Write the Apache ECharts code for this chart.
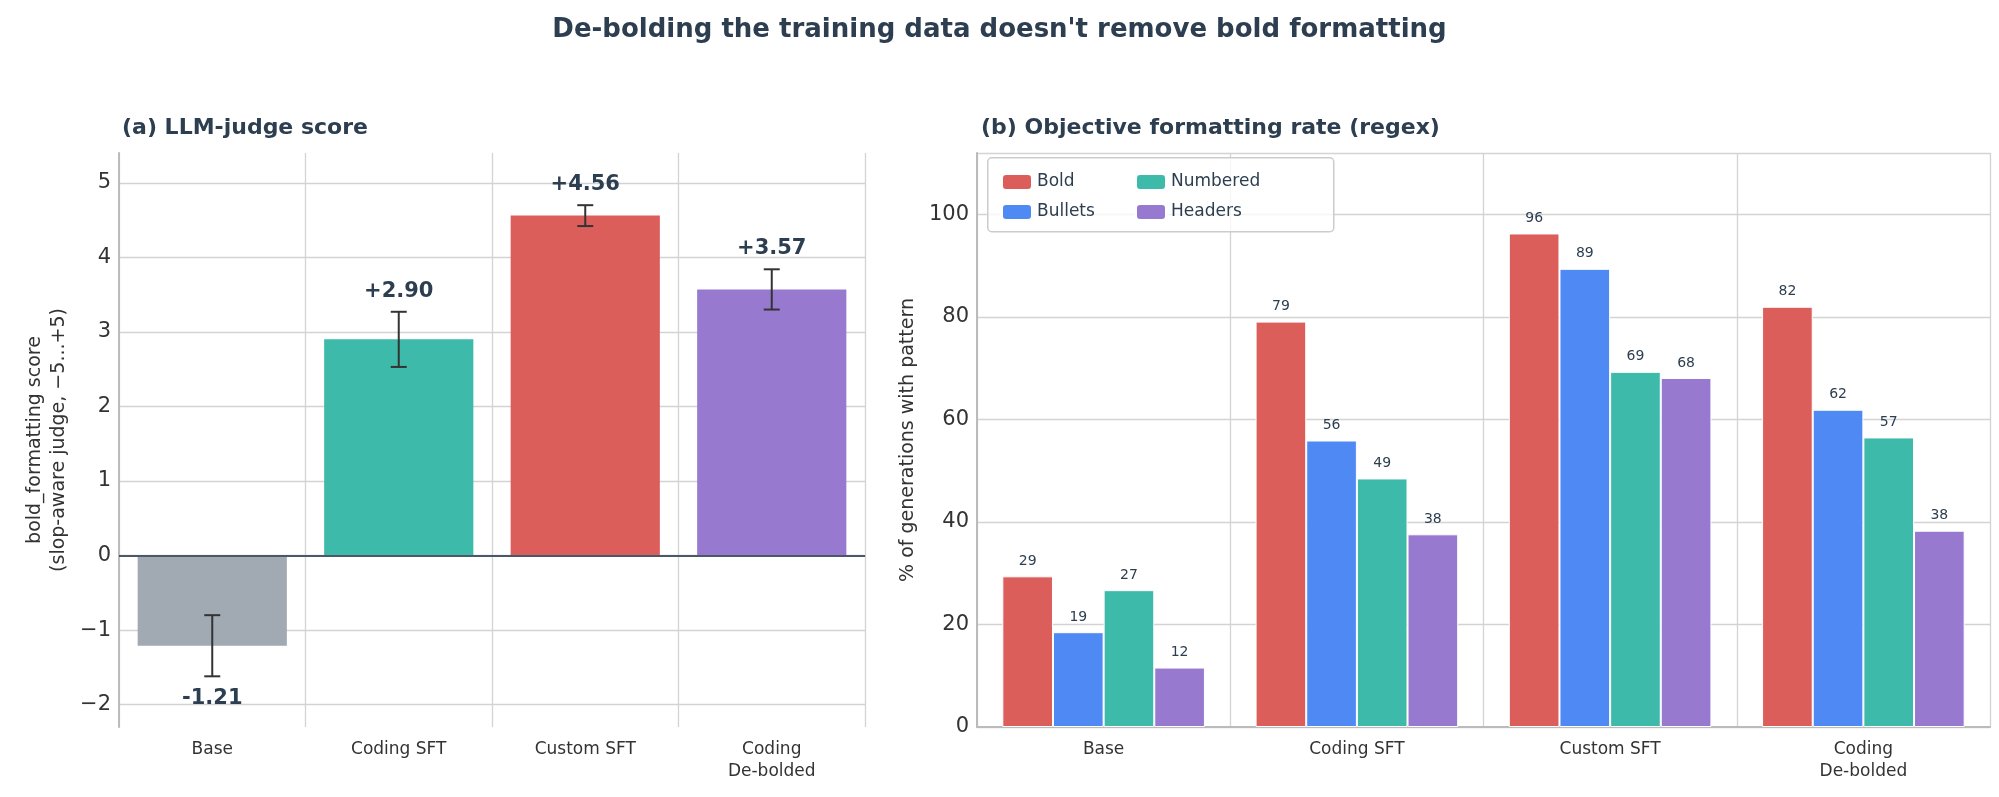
<!DOCTYPE html>
<html><head><meta charset="utf-8">
<script src="https://cdn.jsdelivr.net/npm/echarts@6/dist/echarts.min.js"></script>
<style>html,body{margin:0;padding:0;background:#fff}#c{width:1999px;height:797px}</style>
</head><body><div id="c"></div>
<script>
var categories = ['Base', 'Coding SFT', 'Custom SFT', 'Coding\nDe-bolded'];
var judgeScore = [-1.21, 2.90, 4.56, 3.57];
var judgeErr = [0.41, 0.37, 0.14, 0.27];
var judgeLabels = ['-1.21', '+2.90', '+4.56', '+3.57'];
var judgeColors = ['#a1a9b2', '#3dbaa9', '#dc5e5b', '#977ad0'];
var boldRate = [29.4, 79.1, 96.3, 82.0];
var bulletsRate = [18.5, 55.9, 89.4, 61.9];
var numberedRate = [26.7, 48.5, 69.3, 56.5];
var headersRate = [11.6, 37.6, 68.1, 38.3];
var leftTicks = [-2, -1, 0, 1, 2, 3, 4, 5];

var font = 'DejaVu Sans';
var txt = '#2c3e50';
var chart = echarts.init(document.getElementById('c'));

function errBars(api) {
  var i = api.value(0), v = api.value(1), e = api.value(2);
  var top = api.coord([i, v + e]), bot = api.coord([i, v - e]);
  var w = 8;
  var st = { stroke: '#333', lineWidth: 2 };
  var lab = v >= 0 ? api.coord([i, v + e]) : api.coord([i, v - e]);
  return { type: 'group', children: [
    { type: 'line', shape: { x1: top[0], y1: top[1], x2: bot[0], y2: bot[1] }, style: st },
    { type: 'line', shape: { x1: top[0] - w, y1: top[1], x2: top[0] + w, y2: top[1] }, style: st },
    { type: 'line', shape: { x1: bot[0] - w, y1: bot[1], x2: bot[0] + w, y2: bot[1] }, style: st },
    { type: 'text', x: lab[0], y: v >= 0 ? lab[1] - 10 : lab[1] + 12,
      style: { text: judgeLabels[i], fill: txt, font: 'bold 21px ' + font,
        align: 'center', verticalAlign: v >= 0 ? 'bottom' : 'top' } }
  ]};
}

function rateSeries(name, data, color) {
  return { name: name, type: 'bar', xAxisIndex: 1, yAxisIndex: 1, data: data,
    barGap: '0%', barCategoryGap: '20%',
    itemStyle: { color: color, borderColor: '#fff', borderWidth: 1 },
    label: { show: true, position: 'top', distance: 8, color: txt, fontSize: 14, fontFamily: font,
      formatter: function (p) { return Math.round(p.value); } } };
}

var gridLine = { show: true, lineStyle: { color: '#d3d3d3', width: 1.3 } };
var axisLine = { show: true, lineStyle: { color: '#bbb', width: 2 } };

chart.setOption({
  textStyle: { fontFamily: font },
  title: [
    { text: "De-bolding the training data doesn't remove bold formatting", left: 'center', top: 12,
      textStyle: { fontSize: 26, fontWeight: 'bold', color: txt, fontFamily: font } },
    { text: '(a) LLM-judge score', left: 117, top: 112,
      textStyle: { fontSize: 22, fontWeight: 'bold', color: txt, fontFamily: font } },
    { text: '(b) Objective formatting rate (regex)', left: 976, top: 112,
      textStyle: { fontSize: 22, fontWeight: 'bold', color: txt, fontFamily: font } }
  ],
  legend: [
    { data: ['Bold', 'Bullets'], orient: 'vertical', left: 996, top: 168, itemGap: 12,
      itemWidth: 30, itemHeight: 16, textStyle: { fontSize: 17, color: txt } },
    { data: ['Numbered', 'Headers'], orient: 'vertical', left: 1130, top: 168, itemGap: 12,
      itemWidth: 30, itemHeight: 16, textStyle: { fontSize: 17, color: txt } }
  ],
  graphic: [{ type: 'rect', left: 987, top: 157, shape: { width: 346, height: 74, r: 4 },
    style: { fill: 'rgba(255,255,255,0.8)', stroke: '#ccc', lineWidth: 1.5 }, z: 1 }],
  grid: [
    { left: 119, right: 1999 - 865, top: 153, bottom: 797 - 727 },
    { left: 977, right: 9, top: 153, bottom: 797 - 727 }
  ],
  xAxis: [
    { type: 'category', gridIndex: 0, data: categories, axisLine: axisLine, axisTick: { show: false },
      splitLine: { show: true, lineStyle: { color: '#d3d3d3', width: 1.3 } },
      axisLabel: { fontSize: 17, color: '#333', margin: 12, lineHeight: 22 } },
    { type: 'category', gridIndex: 1, data: categories, axisLine: axisLine, axisTick: { show: false },
      splitLine: { show: true, lineStyle: { color: '#d3d3d3', width: 1.3 } },
      axisLabel: { fontSize: 17, color: '#333', margin: 12, lineHeight: 22 } }
  ],
  yAxis: [
    { type: 'value', gridIndex: 0, min: -2.3, max: 5.4,
      axisTick: { show: false, customValues: leftTicks },
      axisLabel: { customValues: leftTicks, fontSize: 21, color: '#333',
        formatter: function (v) { return v < 0 ? '\u2212' + Math.abs(v) : v; } },
      axisLine: axisLine, splitLine: gridLine,
      name: 'bold_formatting score\n(slop-aware judge, \u22125...+5)', nameLocation: 'middle', nameGap: 48,
      nameTextStyle: { fontSize: 19, color: '#333', lineHeight: 24 } },
    { type: 'value', gridIndex: 1, min: 0, max: 112, interval: 20,
      axisLabel: { fontSize: 21, color: '#333', showMaxLabel: false },
      axisTick: { show: false }, axisLine: axisLine, splitLine: gridLine,
      name: '% of generations with pattern', nameLocation: 'middle', nameGap: 52,
      nameTextStyle: { fontSize: 19, color: '#333' } }
  ],
  series: [
    { type: 'bar', xAxisIndex: 0, yAxisIndex: 0, barWidth: '80%',
      data: judgeScore.map(function (v, i) { return { value: v, itemStyle: { color: judgeColors[i] } }; }),
      markLine: { symbol: 'none', silent: true, label: { show: false },
        lineStyle: { color: '#4a5868', width: 2, type: 'solid' }, data: [{ yAxis: 0 }] } },
    { type: 'custom', xAxisIndex: 0, yAxisIndex: 0, z: 5, renderItem: function (p, api) { return errBars(api); },
      data: judgeScore.map(function (v, i) { return [i, v, judgeErr[i]]; }) },
    rateSeries('Bold', boldRate, '#dc5e5b'),
    rateSeries('Bullets', bulletsRate, '#4f89f4'),
    rateSeries('Numbered', numberedRate, '#3dbaa9'),
    rateSeries('Headers', headersRate, '#977ad0')
  ]
});
</script></body></html>
